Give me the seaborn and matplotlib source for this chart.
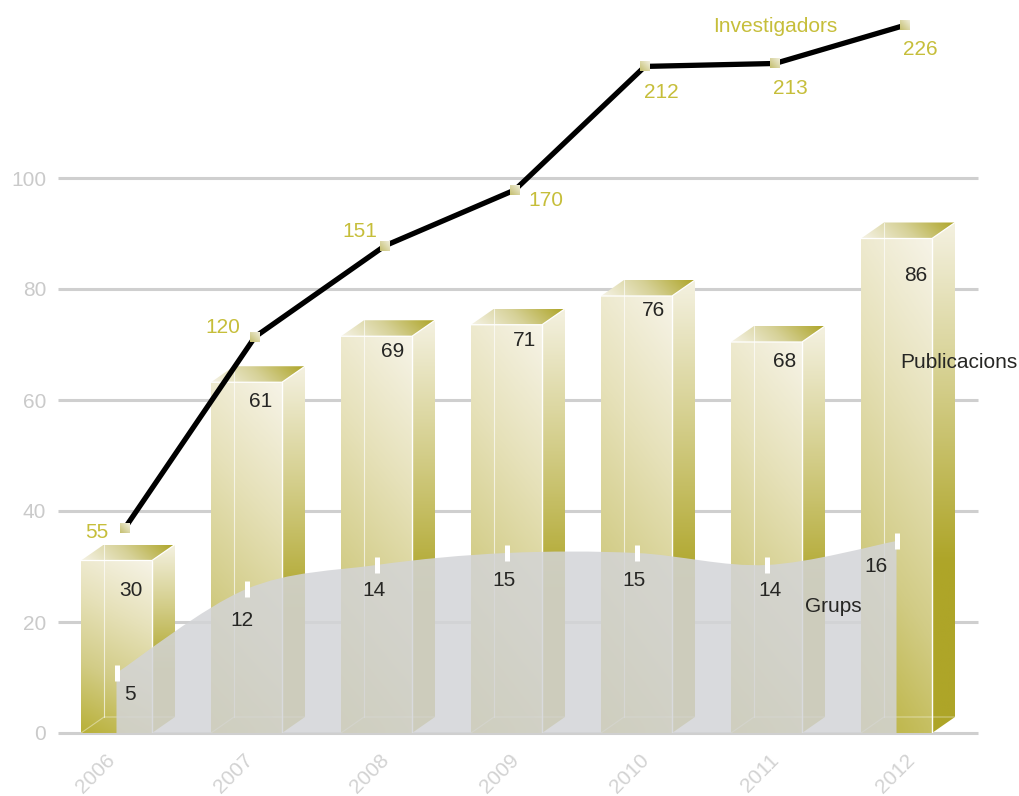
import numpy as np
import pandas as pd
import matplotlib
matplotlib.use("Agg")
import matplotlib.pyplot as plt
import seaborn as sns
from matplotlib.colors import LinearSegmentedColormap
from matplotlib.patches import Polygon, PathPatch
from matplotlib.path import Path
from matplotlib.transforms import ScaledTranslation

# Series
years = ["2006", "2007", "2008", "2009", "2010", "2011", "2012"]
publicacions = [30, 61, 69, 71, 76, 68, 86]
grups = [5, 12, 14, 15, 15, 14, 16]
investigadors = [55, 120, 151, 170, 212, 213, 226]
y_ticks = [0, 20, 40, 60, 80, 100]

# Label offsets from their marks, in pixels (right, down)
pub_offsets = [(14, 30), (14, 19), (16, 15), (18, 16), (17, 14), (18, 19), (19, 37)]
grup_offsets = [(13, 22), (-5, 31), (-2, 25), (-2, 27), (-2, 27), (3, 25), (-20, 26)]
inv_offsets = [(-28, 5), (-32, -9), (-25, -14), (31, 11), (16, 26), (15, 25), (15, 24)]
year_nudges = [-21, -13, -6.5, -6.5, -6.5, -6.5, -0.5]

W, H, DPI = 1019, 796, 100
LEFT, RIGHT, BASE = 58, 978, 733      # plot frame in pixels
STEP = 130                            # pixels between categories
X_MIN = (LEFT - 116.5) / STEP
X_MAX = (RIGHT - 116.5) / STEP
DEPTH_X, DEPTH_Y = 23, 16             # oblique depth of the columns, pixels
BAR_W = 71 / STEP

OLIVE = "#aea528"
LABEL_GOLD = "#c6be3a"
INK = "#262624"
GREY_TEXT = "#cacaca"
FONT = "Liberation Sans"
TEXT_SIZE = 15

sns.set_theme(style="white")
plt.rcParams["font.family"] = [FONT, "DejaVu Sans"]
plt.rcParams["font.weight"] = "normal"

fig = plt.figure(figsize=(W / DPI, H / DPI), dpi=DPI)
rect = [LEFT / W, (H - BASE) / H, (RIGHT - LEFT) / W, BASE / H]


def layer(y_max, y_min=0.0):
    a = fig.add_axes(rect)
    a.patch.set_visible(False)
    a.axis("off")
    a.set_xlim(X_MIN, X_MAX)
    a.set_ylim(y_min, y_max)
    return a


def shade(a, verts, stops, wu, wv, c, zorder):
    """Fill a polygon with a linear gradient running over its bounding box."""
    poly = Polygon(verts, closed=True, fc="none", ec="none", transform=a.transData, zorder=zorder)
    a.add_patch(poly)
    pts = np.asarray(verts)
    u, v = np.meshgrid(np.linspace(0, 1, 48), np.linspace(0, 1, 48))
    ramp = np.clip(wu * u + wv * v + c, 0, 1)
    cmap = LinearSegmentedColormap.from_list("ramp", stops)
    im = a.imshow(
        ramp, origin="lower", cmap=cmap, vmin=0, vmax=1, aspect="auto",
        extent=(pts[:, 0].min(), pts[:, 0].max(), pts[:, 1].min(), pts[:, 1].max()),
        interpolation="bilinear", zorder=zorder,
    )
    im.set_clip_path(poly)


# Base layer: horizontal rules and both axes' tick labels
ax = fig.add_axes(rect)
ax.patch.set_visible(False)
sns.despine(ax=ax, left=True, bottom=True)
ax.set_xlim(X_MIN, X_MAX)
ax.set_ylim(0, BASE / 5.55)
for t in y_ticks:
    ax.axhline(t, color="#cfcfcf", lw=2.2, clip_on=False, zorder=1, solid_capstyle="butt")
ax.set_yticks(y_ticks)
ax.set_yticklabels([str(t) for t in y_ticks], color=GREY_TEXT, fontsize=TEXT_SIZE)
ax.set_xticks(range(len(years)))
ax.set_xticklabels(years, color="#d2d2d2", fontsize=TEXT_SIZE, rotation=45,
                   ha="center", va="center", rotation_mode="anchor")
ax.tick_params(axis="y", length=0, pad=8.5)
ax.tick_params(axis="x", length=0, pad=29)
for lab, nudge in zip(ax.get_xticklabels(), year_nudges):
    lab.set_transform(lab.get_transform() + ScaledTranslation(nudge / DPI, 0, fig.dpi_scale_trans))

# Columns: flat faces come from seaborn, shaded with oblique side and top faces
bar_k = 5.75
ax_bar = layer(BASE / bar_k)
sns.barplot(x=years, y=publicacions, ax=ax_bar, width=BAR_W, color=OLIVE, saturation=1, legend=False)
ax_bar.axis("off")
ax_bar.set_xlabel("")
dx, dy = DEPTH_X / STEP, DEPTH_Y / bar_k
front_stops = ["#f6f3e6", "#e6e1b9", "#d2cc86", "#b9b13a"]
side_stops = ["#f3f0de", "#d2cc86", OLIVE, OLIVE]
top_stops = ["#f5f2e4", "#d6d197", OLIVE]
for patch in ax_bar.patches:
    x0, x1 = patch.get_x(), patch.get_x() + patch.get_width()
    h = patch.get_height()
    patch.set_visible(False)
    shade(ax_bar, [(x0, 0), (x1, 0), (x1, h), (x0, h)], front_stops, -0.18, -0.82, 1.0, 3)
    shade(ax_bar, [(x1, 0), (x1 + dx, dy), (x1 + dx, h + dy), (x1, h)], side_stops, 0.0, -1.0, 1.0, 2)
    shade(ax_bar, [(x0, h), (x1, h), (x1 + dx, h + dy), (x0 + dx, h + dy)], top_stops, 0.85, 0.15, 0.0, 2)
    # bright edges on the outside, fainter ones for the see-through back corner
    ax_bar.plot([x0, x1, x1 + dx], [h, h, h + dy], color="white", lw=0.9, zorder=5)
    ax_bar.plot([x1, x1], [0, h], color="white", lw=1.0, zorder=5)
    ax_bar.plot([x0 + dx, x0 + dx], [dy, h + dy], color="white", lw=0.8, alpha=0.65, zorder=5)
    ax_bar.plot([x0, x0 + dx, x1 + dx], [0, dy, dy], color="white", lw=0.8, alpha=0.4, zorder=5)
ax_bar.set_xlim(X_MIN, X_MAX)
ax_bar.set_ylim(0, BASE / bar_k)

for i, (val, off) in enumerate(zip(publicacions, pub_offsets)):
    ax_bar.annotate(str(val), (i, val), xytext=(off[0] * 72 / DPI, -off[1] * 72 / DPI),
                    textcoords="offset points", ha="center", va="center",
                    color=INK, fontsize=TEXT_SIZE, zorder=6)
ax_bar.text(6.0, 0, "Publicacions", color=INK, fontsize=TEXT_SIZE, zorder=6,
            ha="center", va="center",
            transform=ax_bar.transData + ScaledTranslation(62.5 / DPI, (BASE - 362) / DPI, fig.dpi_scale_trans))

# Translucent smoothed area for the research groups
area_k = 12.0
ax_area = layer(BASE / area_k)
gx = np.arange(len(grups), dtype=float)
gy = np.asarray(grups, dtype=float)
codes = [Path.MOVETO, Path.LINETO]
verts = [(gx[0], 0), (gx[0], gy[0])]
for i in range(len(gx) - 1):
    prev_i, next_i = max(i - 1, 0), min(i + 2, len(gx) - 1)
    c1 = (gx[i] + (gx[i + 1] - gx[prev_i]) / 6, gy[i] + (gy[i + 1] - gy[prev_i]) / 6)
    c2 = (gx[i + 1] - (gx[next_i] - gx[i]) / 6, gy[i + 1] - (gy[next_i] - gy[i]) / 6)
    verts += [c1, c2, (gx[i + 1], gy[i + 1])]
    codes += [Path.CURVE4] * 3
verts += [(gx[-1], 0), (gx[0], 0)]
codes += [Path.LINETO, Path.CLOSEPOLY]
ax_area.add_patch(PathPatch(Path(verts, codes), fc=(211 / 255, 212 / 255, 215 / 255), ec="none", alpha=0.85, zorder=2))
ax_area.plot(gx, gy, ls="none", marker="|", ms=11, mew=3.6, color="white", zorder=3, clip_on=False)
for i, (val, off) in enumerate(zip(grups, grup_offsets)):
    ax_area.annotate(str(val), (i, val), xytext=(off[0] * 72 / DPI, -off[1] * 72 / DPI),
                     textcoords="offset points", ha="center", va="center",
                     color=INK, fontsize=TEXT_SIZE, zorder=6)
ax_area.annotate("Grups", (5, 14), xytext=(67 * 72 / DPI, -42 * 72 / DPI), textcoords="offset points",
                 ha="center", va="center", color=INK, fontsize=TEXT_SIZE, zorder=6)

# Researchers line, on its own scale so it rises over the columns
line_k = 2.94
line_zero_px = 689.7
ax_line = layer(line_zero_px / line_k, -(BASE - line_zero_px) / line_k)
lx = np.arange(len(investigadors)) + 0.065
frame = pd.DataFrame({"x": lx, "y": investigadors})
sns.lineplot(data=frame, x="x", y="y", ax=ax_line, color="black", lw=3.8, errorbar=None,
             solid_capstyle="butt", zorder=3)
ax_line.axis("off")
mx, my = 5 / STEP, 5 / line_k
for x_i, y_i in zip(lx, investigadors):
    shade(ax_line, [(x_i - mx, y_i - my), (x_i + mx, y_i - my), (x_i + mx, y_i + my), (x_i - mx, y_i + my)],
          ["#f2f0e0", "#c4be6e"], -0.5, -0.5, 1.0, 4)
ax_line.set_xlim(X_MIN, X_MAX)
ax_line.set_ylim(-(BASE - line_zero_px) / line_k, line_zero_px / line_k)
for x_i, val, off in zip(lx, investigadors, inv_offsets):
    ax_line.annotate(str(val), (x_i, val), xytext=(off[0] * 72 / DPI, -off[1] * 72 / DPI),
                     textcoords="offset points", ha="center", va="center",
                     color=LABEL_GOLD, fontsize=TEXT_SIZE, zorder=6)
ax_line.annotate("Investigadors", (lx[5], investigadors[5]), xytext=(0, 37 * 72 / DPI),
                 textcoords="offset points", ha="center", va="center",
                 color=LABEL_GOLD, fontsize=TEXT_SIZE, zorder=6)

fig.savefig("out.png", dpi=DPI)
